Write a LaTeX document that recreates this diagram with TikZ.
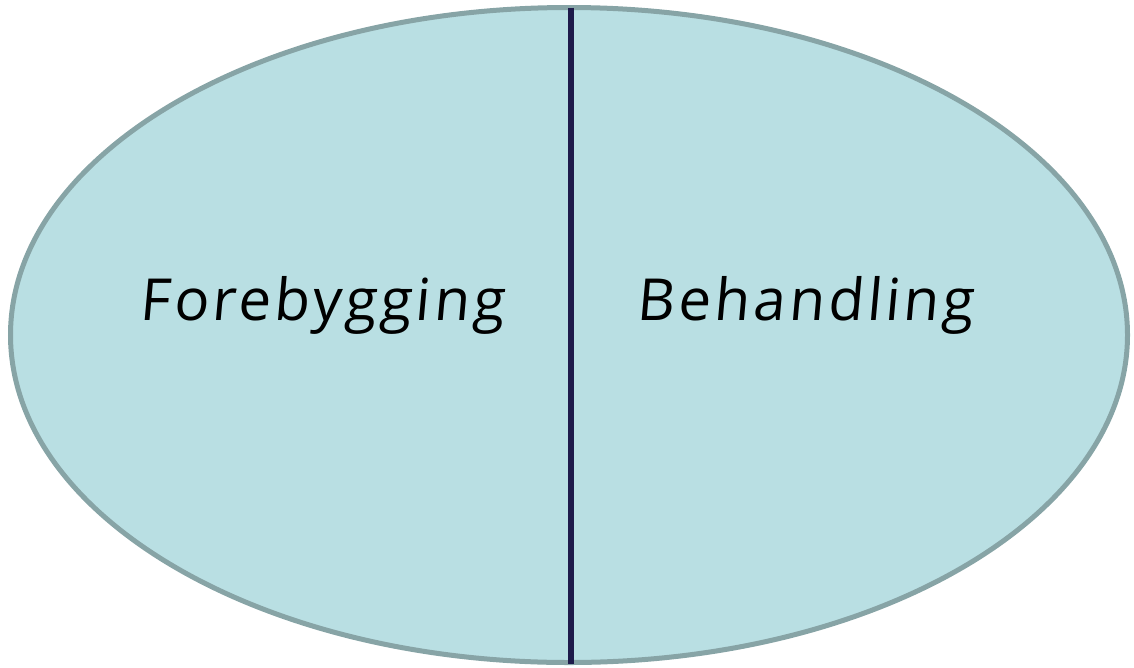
\documentclass[tikz,border=0pt]{standalone}
\usepackage{fontspec}
\setmainfont{Open Sans}[FakeSlant=0.09, LetterSpace=6]
\tikzset{
  oval/.style={fill=ovalfill, draw=ovaldraw, line width=5pt},
  divider/.style={draw=divcol, line width=5.5pt},
  lbl/.style={font=\fontsize{58}{66}\selectfont, text=black, inner sep=0pt, anchor=base}
}
\definecolor{ovalfill}{HTML}{B9DFE3}
\definecolor{ovaldraw}{HTML}{87A4A6}
\definecolor{divcol}{HTML}{1E1B4B}
\begin{document}
\begin{tikzpicture}[x=1pt,y=-1pt]
\useasboundingbox (0,0) rectangle (1134,667);
\path[oval] (569,335) ellipse [x radius=558.5, y radius=327.5];
\coordinate (top) at (571,7.5);
\coordinate (bot) at (571,664);
\draw[divider] (top) -- (bot);
\node[lbl] (fore) at (322,320) {Forebygging};
\node[lbl] (beh) at (805,320) {Behandling};
\end{tikzpicture}
\end{document}
